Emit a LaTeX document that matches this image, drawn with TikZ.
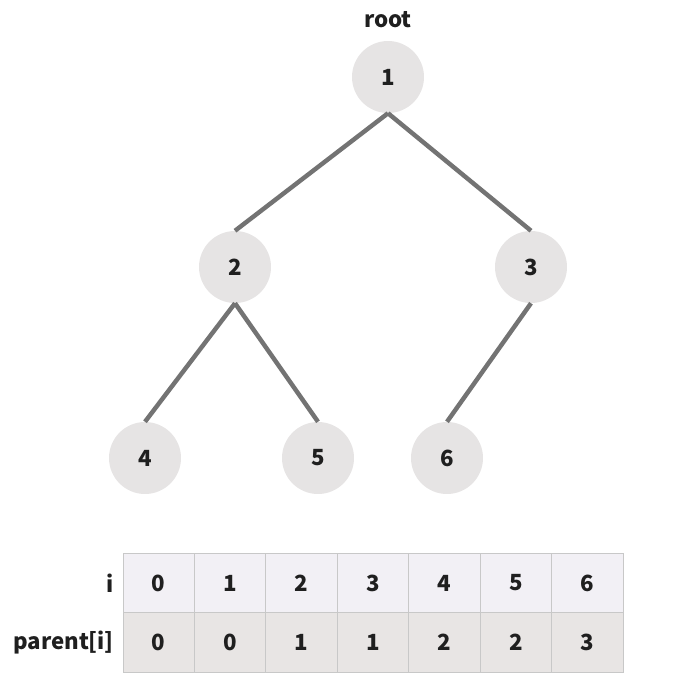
\documentclass[tikz,border=0pt]{standalone}
\usepackage{fontspec}
\setmainfont{Noto Sans CJK KR}
\definecolor{vertfill}{HTML}{E6E4E4}
\definecolor{edgegray}{HTML}{737373}
\definecolor{idxfill}{HTML}{F2F0F5}
\definecolor{parfill}{HTML}{E8E5E4}
\definecolor{gridgray}{HTML}{C8C8C8}
\begin{document}
\begin{tikzpicture}[
  x=0.03cm, y=-0.03cm,
  every node/.style={font=\fontsize{19}{22}\selectfont\bfseries, text=black!88},
  vert/.style={circle,fill=vertfill,minimum size=2.16cm,inner sep=0pt},
  link/.style={draw=edgegray,line width=3.8pt},
  cell/.style={draw=gridgray,line width=0.8pt,minimum width=2.143cm,minimum height=1.78cm,inner sep=0pt}
]
\useasboundingbox (0,0) rectangle (681,700);
% tree
\node[vert] (v1) at (388,77) {1};
\node[vert] (v2) at (235,267) {2};
\node[vert] (v3) at (531,267) {3};
\node[vert] (v4) at (145,458) {4};
\node[vert] (v5) at (318,458) {5};
\node[vert] (v6) at (447,458) {6};
\node (rootlbl) at (388,20) {root};
\draw[link] (v1.south) -- (v2.north);
\draw[link] (v1.south) -- (v3.north);
\draw[link] (v2.south) -- (v4.north);
\draw[link] (v2.south) -- (v5.north);
\draw[link] (v3.south) -- (v6.north);
% parent table
\foreach \p [count=\k from 0] in {0,0,1,1,2,2,3} {
  \node[cell,fill=idxfill] (i\k) at ({123+71.43*(\k+0.5)},583) {\k};
  \node[cell,fill=parfill] (p\k) at ({123+71.43*(\k+0.5)},642.5) {\p};
}
\node[anchor=east] (ilbl) at (118,583) {i};
\node[anchor=east] (plbl) at (118,642.5) {parent[i]};
\end{tikzpicture}
\end{document}
